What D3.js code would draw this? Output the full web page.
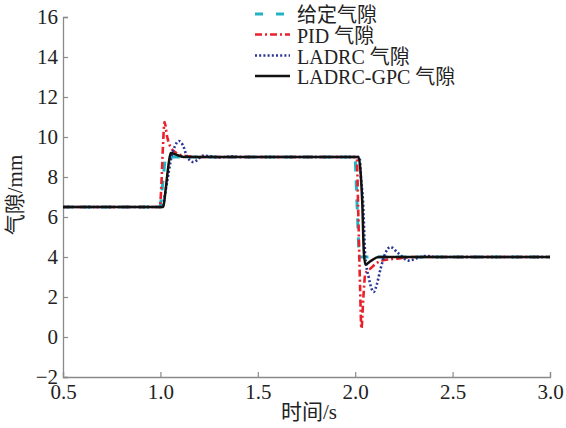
<!DOCTYPE html>
<html>
<head>
<meta charset="utf-8">
<script src="https://cdn.jsdelivr.net/npm/d3@7"></script>
<style>
  html, body { margin: 0; padding: 0; background: #fff; }
  svg { display: block; }
</style>
</head>
<body>
<svg id="chart" width="566" height="428"></svg>
<script>
// Air-gap step response: reference vs. PID, LADRC and LADRC-GPC controllers
const xTicks = [0.5, 1.0, 1.5, 2.0, 2.5, 3.0];
const yTicks = [-2, 0, 2, 4, 6, 8, 10, 12, 14, 16];

const refT = [0.5, 1.0, 1.025, 2.0, 2.02, 3.0];
const refV = [6.5, 6.5, 9.0, 9.0, 4.0, 4.0];

const pidT = [0.5, 0.997, 1.005, 1.013, 1.021, 1.035, 1.052, 1.087, 1.13, 1.2,
              2.008, 2.015, 2.025, 2.032, 2.042, 2.052, 2.078, 2.13, 2.215, 2.3, 3.0];
const pidV = [6.5, 6.5, 7.6, 9.5, 10.75, 10.0, 9.5, 9.17, 9.05, 9.0,
              9.0, 6.5, 2.5, 0.42, 2.0, 3.17, 3.42, 3.8, 3.92, 4.0, 4.0];

const ladrcT = [0.5, 1.011, 1.023, 1.035, 1.057, 1.075, 1.095, 1.115, 1.138, 1.169, 1.19, 1.215, 1.25, 1.3, 1.37, 1.42,
                2.022, 2.03, 2.04, 2.052, 2.069, 2.095, 2.11, 2.13, 2.155, 2.18, 2.22, 2.275, 2.32, 2.36, 2.42, 3.0];
const ladrcV = [6.5, 6.5, 7.1, 7.8, 9.0, 9.55, 9.8, 9.6, 9.0, 8.75, 8.85, 9.06, 9.05, 8.98, 9.02, 9.0,
                9.0, 7.9, 6.8, 4.0, 3.0, 2.25, 2.6, 3.4, 4.2, 4.5, 4.2, 3.82, 3.95, 4.05, 4.0, 4.0];

const gpcT = [0.5, 1.015, 1.025, 1.033, 1.043, 1.053, 1.085, 1.12,
              2.017, 2.028, 2.036, 2.044, 2.052, 2.08, 2.12, 3.0];
const gpcV = [6.5, 6.5, 7.2, 7.9, 8.7, 9.2, 9.1, 9.0,
              9.0, 8.2, 6.8, 4.3, 3.63, 3.8, 4.0, 4.0];

const seriesNames = ["给定气隙", "PID 气隙", "LADRC 气隙", "LADRC-GPC 气隙"];

const svg = d3.select("#chart");
const serif = "'Liberation Serif', 'Times New Roman', 'Noto Sans CJK SC', serif";

const x = d3.scaleLinear().domain([0.5, 3.0]).range([63, 550]);
const y = d3.scaleLinear().domain([-2, 16]).range([377, 17]);

// Axes: only left and bottom, ticks pointing inward
const axisColor = "#8a8a8a";
const gx = svg.append("g").attr("transform", `translate(0,${y(-2)})`)
  .call(d3.axisBottom(x).tickValues(xTicks).tickFormat(d3.format(".1f"))
        .tickSizeInner(-5).tickSizeOuter(-5).tickPadding(7));
const gy = svg.append("g").attr("transform", `translate(${x(0.5)},0)`)
  .call(d3.axisLeft(y).tickValues(yTicks).tickFormat(d => d < 0 ? "\u2212" + Math.abs(d) : d)
        .tickSizeInner(-5).tickSizeOuter(-5).tickPadding(5));

[gx, gy].forEach(g => {
  g.select(".domain").attr("stroke", axisColor).attr("stroke-width", 1.3);
  g.selectAll(".tick line").attr("stroke", axisColor).attr("stroke-width", 1.2);
  g.selectAll(".tick text").attr("fill", "#222").style("font-family", serif).style("font-size", "21px");
});

// Axis titles
svg.append("text").attr("x", 309).attr("y", 419)
  .attr("text-anchor", "middle").attr("fill", "#222")
  .style("font-family", serif).style("font-size", "21px").text("时间/s");
svg.append("text").attr("transform", "translate(22,195) rotate(-90)")
  .attr("text-anchor", "middle").attr("fill", "#222")
  .style("font-family", serif).style("font-size", "21px").text("气隙/mm");

// Series
const styles = [
  { t: refT, v: refV, color: "#22b4c4", width: 3, dash: "10,9" },
  { t: pidT, v: pidV, color: "#e8212b", width: 2.6, dash: "7,3,2,3" },
  { t: ladrcT, v: ladrcV, color: "#2a3596", width: 2.6, dash: "2,2.2" },
  { t: gpcT, v: gpcV, color: "#111111", width: 2.5, dash: null }
];

const line = d3.line().x(d => x(d[0])).y(d => y(d[1]));

styles.forEach((s, i) => {
  const pts = s.t.map((t, k) => [t, s.v[k]]);
  svg.append("path")
    .datum(pts)
    .attr("fill", "none")
    .attr("stroke", s.color)
    .attr("stroke-width", s.width)
    .attr("stroke-dasharray", s.dash)
    .attr("stroke-linejoin", "round")
    .attr("d", line.curve(i === 0 ? d3.curveLinear : d3.curveMonotoneX)(pts));
});

// Legend
const legendRows = [15, 35.5, 56.5, 77];
const lg = svg.append("g");
styles.forEach((s, i) => {
  const yy = legendRows[i];
  lg.append("line")
    .attr("x1", 255).attr("x2", 290).attr("y1", yy - 1).attr("y2", yy - 1)
    .attr("stroke", s.color).attr("stroke-width", s.width)
    .attr("stroke-dasharray", i === 0 ? "8,13" : s.dash);
  lg.append("text")
    .attr("x", 297).attr("y", yy).attr("dy", "0.35em")
    .attr("fill", "#222")
    .style("font-family", serif).style("font-size", "20px")
    .text(seriesNames[i]);
});
</script>
</body>
</html>
